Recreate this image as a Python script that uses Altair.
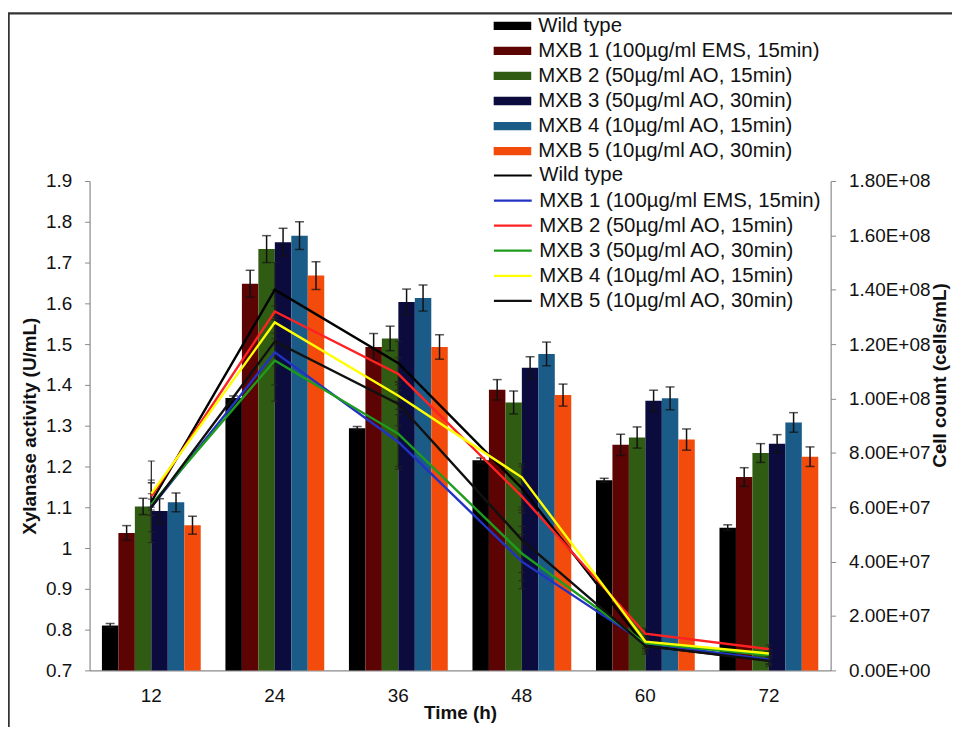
import altair as alt
import pandas as pd

# ---------------- data ----------------
times = ["12", "24", "36", "48", "60", "72"]
strains = [
    "Wild type",
    "MXB 1 (100µg/ml EMS, 15min)",
    "MXB 2 (50µg/ml AO, 15min)",
    "MXB 3 (50µg/ml AO, 30min)",
    "MXB 4 (10µg/ml AO, 15min)",
    "MXB 5 (10µg/ml AO, 30min)",
]
bar_colors = ["#000000", "#5c0303", "#2f5c12", "#0b0b3e", "#1b5b87", "#f24b0c"]
line_colors = ["#000000", "#2233c4", "#ff2222", "#1d9c1d", "#ffff00", "#111111"]

# Xylanase activity (U/mL), bars
xyl_wt = [0.81, 1.368, 1.294, 1.215, 1.166, 1.050]
xyl_mxb1 = [1.037, 1.648, 1.493, 1.388, 1.253, 1.174]
xyl_mxb2 = [1.102, 1.733, 1.514, 1.357, 1.271, 1.233]
xyl_mxb3 = [1.091, 1.750, 1.603, 1.442, 1.361, 1.256]
xyl_mxb4 = [1.112, 1.766, 1.613, 1.476, 1.367, 1.308]
xyl_mxb5 = [1.056, 1.668, 1.493, 1.375, 1.266, 1.224]

xyl_err_wt = [0.005, 0.005, 0.004, 0.006, 0.005, 0.007]
xyl_err_mxb1 = [0.018, 0.033, 0.033, 0.025, 0.026, 0.023]
xyl_err_mxb2 = [0.020, 0.033, 0.030, 0.028, 0.026, 0.023]
xyl_err_mxb3 = [0.030, 0.034, 0.032, 0.027, 0.026, 0.022]
xyl_err_mxb4 = [0.023, 0.034, 0.032, 0.029, 0.028, 0.024]
xyl_err_mxb5 = [0.022, 0.034, 0.030, 0.027, 0.026, 0.024]

# Cell count (cells/mL), lines
cell_wt = [6.2e7, 1.40e8, 1.13e8, 6.7e7, 0.9e7, 0.37e7]
cell_mxb1 = [6.0e7, 1.17e8, 8.4e7, 4.0e7, 1.0e7, 0.40e7]
cell_mxb2 = [6.4e7, 1.32e8, 1.09e8, 6.4e7, 1.35e7, 0.78e7]
cell_mxb3 = [6.1e7, 1.14e8, 8.7e7, 4.3e7, 1.0e7, 0.56e7]
cell_mxb4 = [6.5e7, 1.28e8, 1.01e8, 7.1e7, 1.06e7, 0.62e7]
cell_mxb5 = [6.0e7, 1.21e8, 9.8e7, 4.8e7, 0.9e7, 0.35e7]

cell_err_wt = [1.5e7, 1.0e7, 0.8e7, 0.8e7, 0.2e7, 0.15e7]
cell_err_mxb1 = [0.9e7, 1.2e7, 1.0e7, 1.0e7, 0.2e7, 0.15e7]
cell_err_mxb2 = [0.5e7, 0.8e7, 0.6e7, 0.6e7, 0.2e7, 0.15e7]
cell_err_mxb3 = [0.4e7, 1.5e7, 1.2e7, 1.0e7, 0.2e7, 0.15e7]
cell_err_mxb4 = [0.5e7, 0.6e7, 0.5e7, 0.5e7, 0.2e7, 0.15e7]
cell_err_mxb5 = [0.3e7, 0.9e7, 0.8e7, 1.2e7, 0.3e7, 0.2e7]

xyl_all = [xyl_wt, xyl_mxb1, xyl_mxb2, xyl_mxb3, xyl_mxb4, xyl_mxb5]
xyl_err_all = [xyl_err_wt, xyl_err_mxb1, xyl_err_mxb2, xyl_err_mxb3, xyl_err_mxb4, xyl_err_mxb5]
cell_all = [cell_wt, cell_mxb1, cell_mxb2, cell_mxb3, cell_mxb4, cell_mxb5]
cell_err_all = [cell_err_wt, cell_err_mxb1, cell_err_mxb2, cell_err_mxb3, cell_err_mxb4, cell_err_mxb5]

# line-series names carry a trailing space so their legend is kept separate
line_names = [s + " " for s in strains]

bar_rows, bar_caps, line_rows, line_caps = [], [], [], []
for s, vals, errs in zip(strains, xyl_all, xyl_err_all):
    for t, v, e in zip(times, vals, errs):
        bar_rows.append({"time": t, "bar_strain": s, "xyl": v, "lo": v - e, "hi": v + e})
        bar_caps.append({"time": t, "bar_strain": s, "cap": v - e})
        bar_caps.append({"time": t, "bar_strain": s, "cap": v + e})
for s, vals, errs in zip(line_names, cell_all, cell_err_all):
    for t, v, e in zip(times, vals, errs):
        line_rows.append({"time": t, "line_strain": s, "cells": v, "lo": v - e, "hi": v + e})
        line_caps.append({"time": t, "line_strain": s, "cap": v - e})
        line_caps.append({"time": t, "line_strain": s, "cap": v + e})

bar_df = pd.DataFrame(bar_rows)
bar_cap_df = pd.DataFrame(bar_caps)
line_df = pd.DataFrame(line_rows)
line_cap_df = pd.DataFrame(line_caps)

FONT = "Liberation Sans"
AXIS_GRAY = "#8a8a8a"

x_enc = alt.X(
    "time:N",
    sort=times,
    scale=alt.Scale(paddingInner=0.2, paddingOuter=0.1),
    axis=alt.Axis(
        title="Time (h)", labelAngle=0, ticks=False, tickSize=0, labelPadding=16,
        labelFontSize=19, labelFont=FONT, labelColor="#111111",
        titleFontSize=19, titleFont=FONT, titleFontWeight="bold", titleColor="#111111",
        titleY=42, titleBaseline="middle",
        domainColor=AXIS_GRAY, domainWidth=1.2,
    ),
)
xoff = alt.XOffset("bar_strain:N", sort=strains, scale=alt.Scale(paddingInner=0, paddingOuter=0))

left_scale = alt.Scale(domain=[0.7, 1.9], nice=False, zero=False)
left_axis = alt.Axis(
    title="Xylanase activity (U/mL)", values=[0.7, 0.8, 0.9, 1.0, 1.1, 1.2, 1.3, 1.4, 1.5, 1.6, 1.7, 1.8, 1.9],
    format=".1~f", grid=False, tickSize=5, labelPadding=13,
    labelFontSize=19, labelFont=FONT, labelColor="#111111",
    titleFontSize=19, titleFont=FONT, titleFontWeight="bold", titleColor="#111111",
    titleX=-60, titleY=246, titleAngle=270, titleBaseline="middle", titleAlign="center",
    domainColor=AXIS_GRAY, tickColor=AXIS_GRAY, domainWidth=1.2,
)

right_scale = alt.Scale(domain=[0, 1.8e8], nice=False, zero=True)
exp_expr = "floor(log(datum.value) / LN10 + 1e-9)"
right_axis = alt.Axis(
    title="Cell count (cells/mL)", orient="right",
    values=[0, 2e7, 4e7, 6e7, 8e7, 1e8, 1.2e8, 1.4e8, 1.6e8, 1.8e8],
    labelExpr=(
        "datum.value == 0 ? '0.00E+00' : format(datum.value / pow(10, " + exp_expr + "), '.2f') + 'E+' + ("
        + exp_expr + " < 10 ? '0' : '') + " + exp_expr
    ),
    grid=False, tickSize=5, labelPadding=13,
    labelFontSize=19, labelFont=FONT, labelColor="#111111",
    titleFontSize=19, titleFont=FONT, titleFontWeight="bold", titleColor="#111111",
    titleX=109, titleY=195, titleAngle=270, titleBaseline="middle", titleAlign="center",
    domainColor=AXIS_GRAY, tickColor=AXIS_GRAY, domainWidth=1.2,
)

bar_legend = alt.Legend(
    title=None, orient="none", legendX=406, legendY=-168.5, padding=0,
    symbolType="M-1,-0.22H1V0.22H-1Z", symbolSize=1444, symbolStrokeWidth=0,
    labelFontSize=20.5, labelFont=FONT, labelColor="#111111", labelOffset=7, labelLimit=500,
    clipHeight=25, rowPadding=0.2,
)
line_legend = alt.Legend(
    title=None, orient="none", legendX=405, legendY=-18, padding=0,
    symbolType="stroke", symbolSize=1444, symbolStrokeWidth=2.2,
    labelFontSize=20.5, labelFont=FONT, labelColor="#111111", labelOffset=6, labelLimit=500,
    clipHeight=25, rowPadding=0.2,
)

bars = alt.Chart(bar_df).mark_bar(stroke=None).encode(
    x=x_enc,
    xOffset=xoff,
    y=alt.Y("xyl:Q", scale=left_scale, axis=left_axis),
    y2=alt.Y2(datum=0.7),
    fill=alt.Fill("bar_strain:N", scale=alt.Scale(domain=strains, range=bar_colors), legend=bar_legend),
)
bar_err = alt.Chart(bar_df).mark_rule(color="#111111", strokeWidth=1.5).encode(
    x=x_enc, xOffset=xoff,
    y=alt.Y("lo:Q", scale=left_scale, axis=left_axis),
    y2="hi:Q",
)
bar_cap = alt.Chart(bar_cap_df).mark_tick(color="#111111", size=9, thickness=1.5, orient="horizontal").encode(
    x=x_enc, xOffset=xoff,
    y=alt.Y("cap:Q", scale=left_scale, axis=left_axis),
)
bar_layer = alt.layer(bars, bar_err, bar_cap)

lines = alt.Chart(line_df).mark_line(strokeWidth=2.4).encode(
    x=x_enc,
    y=alt.Y("cells:Q", scale=right_scale, axis=right_axis),
    stroke=alt.Stroke("line_strain:N", scale=alt.Scale(domain=line_names, range=line_colors), legend=line_legend),
    order=alt.Order("time:N"),
)
line_err = alt.Chart(line_df).mark_rule(color="#222222", strokeWidth=1.2).encode(
    x=x_enc,
    y=alt.Y("lo:Q", scale=right_scale, axis=right_axis),
    y2="hi:Q",
)
line_cap = alt.Chart(line_cap_df).mark_tick(color="#222222", size=7, thickness=1.2, orient="horizontal").encode(
    x=x_enc,
    y=alt.Y("cap:Q", scale=right_scale, axis=right_axis),
)
line_layer = alt.layer(line_err, line_cap, lines)

# decorative outer frame of the figure
frame_df = pd.DataFrame({"k": [0]})
frame_left = alt.Chart(frame_df).mark_rule(color="#333333", strokeWidth=2.5, clip=False).encode(
    x=alt.value(-81.5), y=alt.value(-168.5), y2=alt.value(560)
)
frame_top = alt.Chart(frame_df).mark_rule(color="#333333", strokeWidth=2.5, clip=False).encode(
    x=alt.value(-82.5), x2=alt.value(900), y=alt.value(-168.5)
)

chart = (
    alt.layer(bar_layer, line_layer, frame_left, frame_top)
    .resolve_scale(y="independent")
    .properties(
        width=745, height=492,
        autosize=alt.AutoSizeParams(type="none"),
        padding={"left": 82, "top": 172, "right": 122, "bottom": 55},
        background="white",
    )
    .configure_view(stroke=None)
)

chart.save("out.html", embed_options={"renderer": "svg", "actions": False})
